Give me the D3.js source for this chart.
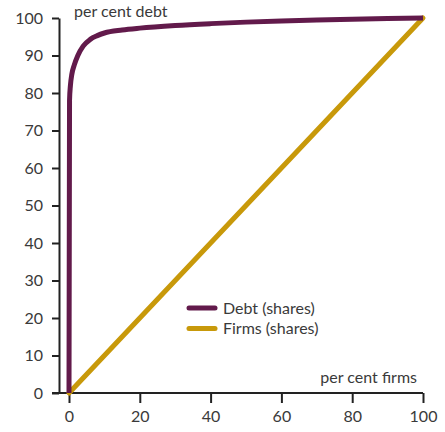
<!DOCTYPE html>
<html>
<head>
<meta charset="utf-8">
<script src="https://cdn.jsdelivr.net/npm/d3@7"></script>
<style>
  html, body { margin: 0; padding: 0; background: #fff; }
  svg text { font-family: Lato, "Open Sans", sans-serif; fill: #3a3a3a; }
</style>
</head>
<body>
<div id="chart"></div>
<script>
// Cumulative shares: per cent of firms (x) vs per cent of debt (y).
const debtX = [0, 0.15, 0.4, 0.8, 1.5, 2.5, 4, 6, 8, 10, 15, 20, 30, 40, 50, 60, 70, 80, 90, 100];
const debtY = [0, 78, 82, 85, 87.5, 90, 92.5, 94.3, 95.3, 96, 96.8, 97.3, 98, 98.5, 98.9, 99.2, 99.45, 99.65, 99.85, 100];
const firmsX = [0, 100];
const firmsY = [0, 100];
const xTicks = [0, 20, 40, 60, 80, 100];
const yTicks = [0, 10, 20, 30, 40, 50, 60, 70, 80, 90, 100];
const seriesNames = ["Debt (shares)", "Firms (shares)"];
const seriesColors = ["#621a4b", "#c8990a"];

const W = 445, H = 432;
const FONT = 16;
const svg = d3.select("#chart").append("svg").attr("width", W).attr("height", H);

const x = d3.scaleLinear().domain([0, 100]).range([69, 423]);
const y = d3.scaleLinear().domain([0, 100]).range([393, 18]);
const axisX = 59; // y-axis sits a little left of x = 0

// axes
const gx = svg.append("g").attr("transform", `translate(0,${y(0)})`)
    .call(d3.axisBottom(x).tickValues(xTicks).tickSize(10).tickPadding(8).tickSizeOuter(0));
gx.select(".domain").remove();
gx.append("line").attr("x1", axisX - 7).attr("x2", x(100)).attr("stroke", "#222").attr("stroke-width", 2);
gx.selectAll(".tick line").attr("stroke", "#222").attr("stroke-width", 2);
gx.selectAll(".tick text").attr("font-size", FONT).style("font-family", "Lato, sans-serif").attr("fill", "#3a3a3a");

const gy = svg.append("g").attr("transform", `translate(${axisX},0)`)
    .call(d3.axisLeft(y).tickValues(yTicks).tickSize(7).tickPadding(9).tickSizeOuter(0));
gy.select(".domain").attr("stroke", "#222").attr("stroke-width", 2);
gy.selectAll(".tick line").attr("stroke", "#222").attr("stroke-width", 2);
gy.selectAll(".tick text").attr("font-size", FONT).style("font-family", "Lato, sans-serif").attr("fill", "#3a3a3a");

// axis titles
svg.append("text").attr("x", 74).attr("y", 17).attr("font-size", FONT).text("per cent debt");
svg.append("text").attr("x", 417).attr("y", 383).attr("font-size", FONT)
    .attr("text-anchor", "end").text("per cent firms");

// series
const line = d3.line().x(d => x(d[0])).y(d => y(d[1])).curve(d3.curveMonotoneX);
const series = [
    d3.zip(debtX, debtY),
    d3.zip(firmsX, firmsY),
];
svg.append("path").datum(series[1]).attr("d", line)
    .attr("fill", "none").attr("stroke", seriesColors[1]).attr("stroke-width", 5).attr("stroke-linecap", "round");
svg.append("path").datum(series[0]).attr("d", line)
    .attr("fill", "none").attr("stroke", seriesColors[0]).attr("stroke-width", 5).attr("stroke-linecap", "butt");

// legend
const legend = svg.append("g").attr("transform", "translate(189,308)");
seriesNames.forEach((name, i) => {
    const g = legend.append("g").attr("transform", `translate(0,${i * 20.5})`);
    g.append("line").attr("x1", 0).attr("x2", 26)
        .attr("stroke", seriesColors[i]).attr("stroke-width", 5).attr("stroke-linecap", "round");
    g.append("text").attr("x", 34).attr("y", 5.5).attr("font-size", FONT).text(name);
});
</script>
</body>
</html>
